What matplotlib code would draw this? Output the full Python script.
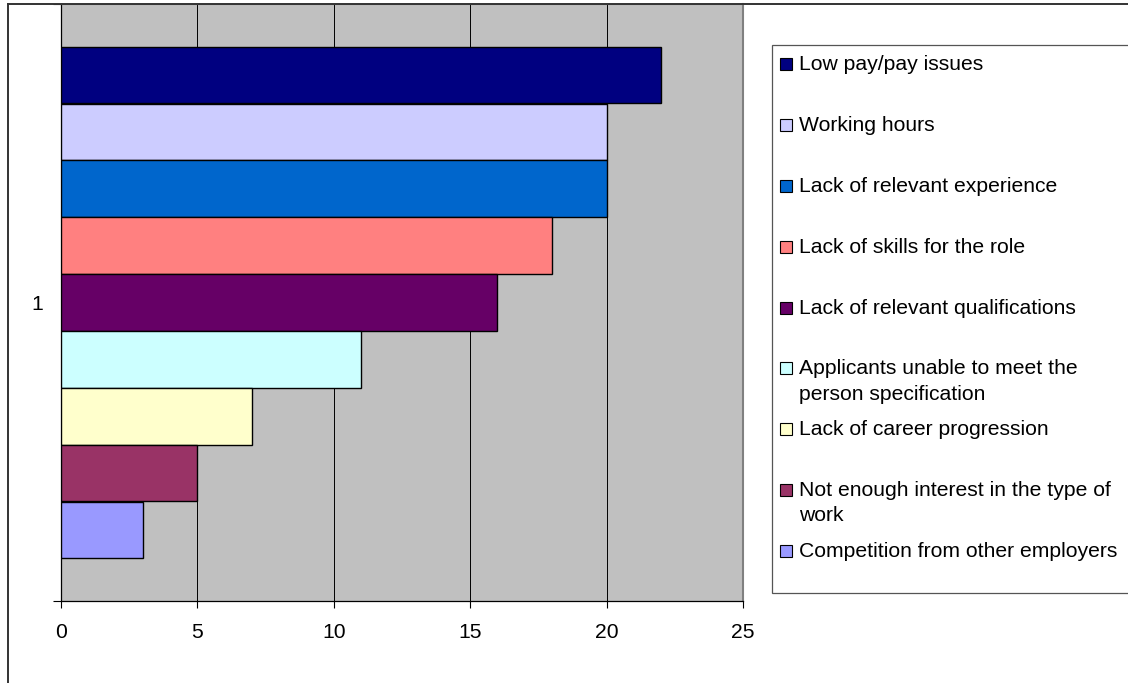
import matplotlib
matplotlib.use('Agg')
import matplotlib.pyplot as plt
from matplotlib.lines import Line2D
from matplotlib.patches import Rectangle

plt.rcParams['font.family'] = ['Liberation Sans', 'DejaVu Sans']

# reasons given for recruitment difficulties (one category, one series each)
reasons = ['Low pay/pay issues',
           'Working hours',
           'Lack of relevant experience',
           'Lack of skills for the role',
           'Lack of relevant qualifications',
           'Applicants unable to meet the\nperson specification',
           'Lack of career progression',
           'Not enough interest in the type of\nwork',
           'Competition from other employers']
counts = [22, 20, 20, 18, 16, 11, 7, 5, 3]
colours = ['#000080', '#CCCCFF', '#0066CC', '#FF8080', '#660066',
           '#CCFFFF', '#FFFFCC', '#993366', '#9999FF']
category = '1'
x_ticks = [0, 5, 10, 15, 20, 25]

W, H = 1128, 683
fig = plt.figure(figsize=(W / 100, H / 100), dpi=100)
fig.patch.set_facecolor('white')

def fx(px):
    return px / W

def fy(py):
    return 1 - py / H

ax = fig.add_axes([fx(61), fy(601), fx(743) - fx(61), fy(4) - fy(601)])
ax.set_facecolor('#C0C0C0')

n = len(counts)
bar_h = 1 / (n + 1.5)   # 150% gap width
for i, (val, col, lab) in enumerate(zip(counts, colours, reasons)):
    y = 1 + (i - (n - 1) / 2) * bar_h
    ax.barh(y, val, height=bar_h, color=col, edgecolor='black',
            linewidth=1.0, label=lab, zorder=3)

ax.set_xlim(0, 25)
ax.set_ylim(1.5, 0.5)
ax.set_xticks(x_ticks)
ax.set_xticklabels([str(t) for t in x_ticks])
ax.tick_params(axis='x', direction='out', length=5, width=0.8,
               labelsize=15.2, pad=11, color='black')
ax.set_yticks([1])
ax.set_yticklabels([category])
ax.set_yticks([0.5, 1.5], minor=True)
ax.tick_params(axis='y', which='major', length=0, labelsize=15.2, pad=13)
ax.tick_params(axis='y', which='minor', direction='out', length=6, width=0.8)

ax.set_axisbelow(True)
ax.grid(axis='x', color='black', linewidth=0.7)
ax.grid(axis='y', visible=False)

for side in ['left', 'bottom']:
    ax.spines[side].set_color('black')
    ax.spines[side].set_linewidth(0.9)
ax.spines['right'].set_color('#808080')
ax.spines['right'].set_linewidth(1.5)
ax.spines['top'].set_color('#808080')

# outer chart frame (runs off the right and bottom of the image)
fig.add_artist(Line2D([fx(8), fx(8)], [fy(4), -0.05], color='#333333',
                      linewidth=1.4, transform=fig.transFigure))
fig.add_artist(Line2D([fx(8), 1.05], [fy(4), fy(4)], color='#333333',
                      linewidth=1.4, transform=fig.transFigure))

# legend box
fig.add_artist(Rectangle((fx(772), fy(593)), fx(1160) - fx(772), fy(45) - fy(593),
                         facecolor='white', edgecolor='#555555', linewidth=0.9,
                         transform=fig.transFigure))
step = (551 - 64) / (n - 1)
for i, (col, lab) in enumerate(zip(colours, reasons)):
    yc = 64 + i * step
    fig.add_artist(Rectangle((fx(780), fy(yc + 6)), fx(12), 12 / H,
                             facecolor=col, edgecolor='black', linewidth=0.8,
                             transform=fig.transFigure))
    fig.text(fx(799), fy(yc - 9), lab, fontsize=15.2, va='top', ha='left',
             linespacing=1.42)

fig.savefig('out.png', dpi=100)
